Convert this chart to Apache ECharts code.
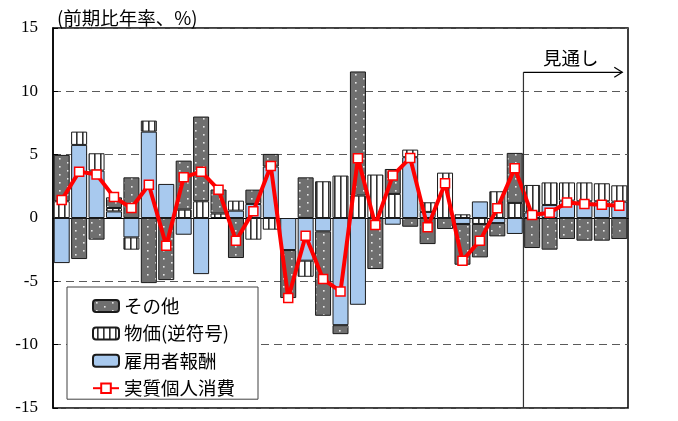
<!DOCTYPE html>
<html><head><meta charset="utf-8">
<script src="https://cdn.jsdelivr.net/npm/echarts@6/dist/echarts.min.js"></script>
<style>html,body{margin:0;padding:0;background:#fff}#c{width:678px;height:421px}</style>
</head><body><div id="c"></div>
<script>
const categories = ['1','2','3','4','5','6','7','8','9','10','11','12','13','14','15','16','17','18','19','20','21','22','23','24','25','26','27','28','29','30','31','32','33'];
const compensation = [-3.56,5.77,3.74,0.52,-1.53,6.82,2.69,-1.32,-4.43,0,0.58,1.11,4.06,-2.53,-3.37,-1.05,-8.46,-6.85,0,-0.53,4.80,0.48,0,-0.47,1.31,-0.40,-1.26,0.44,1.03,1.37,1.32,1.32,1.29];
const prices = [1.32,1.05,1.37,0.27,-0.97,0.87,0,0.66,1.32,0.35,0.79,-1.71,-0.92,0,-1.27,2.90,3.35,1.77,3.43,1.90,0.60,0.76,3.58,0.29,-0.47,2.11,1.19,2.17,1.78,1.44,1.49,1.42,1.29];
const others = [3.66,-3.24,-1.71,0.84,3.21,-5.14,-4.90,3.87,6.69,1.90,-3.16,1.13,1.00,-3.79,3.21,-6.67,-0.71,9.80,-4.03,1.97,-0.69,-2.06,-0.87,-3.22,-2.64,-1.05,3.95,-2.37,-2.50,-1.66,-1.79,-1.79,-1.66];
const consumption = [1.42,3.66,3.43,1.65,0.79,2.63,-2.19,3.21,3.66,2.24,-1.79,0.53,4.11,-6.32,-1.40,-4.82,-5.80,4.72,-0.55,3.35,4.74,-0.74,2.74,-3.37,-1.79,0.76,3.93,0.24,0.42,1.23,1.11,1.05,0.97];
const yTicks = [-15,-10,-5,0,5,10,15];
const forecastStart = 27; // first forecast category index

function dotPattern(){
  const c=document.createElement('canvas');c.width=16;c.height=8;
  const g=c.getContext('2d');
  g.fillStyle='#6f6f6f';g.fillRect(0,0,16,8);
  g.fillStyle='#e6e6e6';
  g.fillRect(3,2,1.6,1.6);g.fillRect(11,6,1.6,1.6);
  return {image:c,repeat:'repeat'};
}
function stripePattern(){
  const c=document.createElement('canvas');c.width=6;c.height=6;
  const g=c.getContext('2d');
  g.fillStyle='#ffffff';g.fillRect(0,0,6,6);
  g.fillStyle='#333333';g.fillRect(4,0,1.6,6);
  return {image:c,repeat:'repeat'};
}
const nz = a => a.map(v => v === 0 ? null : v);
const jp = '"Noto Sans CJK JP","Noto Sans",sans-serif';

const chart = echarts.init(document.getElementById('c'), null, {renderer:'canvas'});
const barCommon = {type:'bar', stack:'s', barWidth:16, itemStyle:{borderColor:'#1a1a1a', borderWidth:1}};
chart.setOption({
  animation:false,
  title:{text:'(前期比年率、%)', left:52, top:4, textStyle:{fontFamily:jp, fontSize:18.5, fontWeight:'normal', color:'#000'}},
  grid:{left:53, right:50, top:28, bottom:13, show:true, borderColor:'#000', borderWidth:1.5, backgroundColor:'transparent'},
  legend:{
    orient:'vertical', left:67, top:287,
    data:['その他','物価(逆符号)','雇用者報酬','実質個人消費'],
    padding:[9,23,1,25], itemWidth:26, itemHeight:12, itemGap:7.4,
    backgroundColor:'#fff', borderColor:'#404040', borderWidth:1, borderRadius:0,
    textStyle:{fontFamily:jp, fontSize:18.5, color:'#000', lineHeight:20}
  },
  xAxis:{type:'category', data:categories, boundaryGap:true,
    axisLine:{onZero:true, lineStyle:{color:'#000', width:1.2}}, axisTick:{show:false}, axisLabel:{show:false}},
  yAxis:{type:'value', min:yTicks[0], max:yTicks[yTicks.length-1], interval:5,
    axisLine:{show:true, lineStyle:{color:'#000', width:1.5}},
    axisTick:{show:true, inside:true, length:5, lineStyle:{color:'#000'}},
    axisLabel:{fontFamily:'"Liberation Serif","Times New Roman",serif', fontSize:17, color:'#000', margin:15},
    splitLine:{show:true, lineStyle:{color:'#5a5a5a', type:[8,5], width:1.2}}},
  series:[
    Object.assign({}, barCommon, {name:'雇用者報酬', data:nz(compensation), itemStyle:{color:'#a8c9ee', borderColor:'#1a1a1a', borderWidth:1}}),
    Object.assign({}, barCommon, {name:'物価(逆符号)', data:nz(prices), itemStyle:{color:stripePattern(), borderColor:'#1a1a1a', borderWidth:1}}),
    Object.assign({}, barCommon, {name:'その他', data:nz(others), itemStyle:{color:dotPattern(), borderColor:'#1a1a1a', borderWidth:1}}),
    {name:'実質個人消費', type:'line', data:consumption, z:10, symbol:'rect', symbolSize:9,
      lineStyle:{color:'#ff0000', width:4}, itemStyle:{color:'#ffffff', borderColor:'#ff0000', borderWidth:1.5}}
  ]
});

// forecast divider, arrow and label positioned via axis conversion
const xa = chart.convertToPixel({xAxisIndex:0}, categories[forecastStart-1]);
const xb = chart.convertToPixel({xAxisIndex:0}, categories[forecastStart]);
const xv = (xa + xb) / 2;
const yTop = chart.convertToPixel({yAxisIndex:0}, 11.5);
const yBot = chart.convertToPixel({yAxisIndex:0}, -15);
const xEnd = chart.convertToPixel({xAxisIndex:0}, categories[categories.length-1]) + 9;
chart.setOption({graphic:[
  {type:'line', shape:{x1:xv, y1:yTop, x2:xv, y2:yBot}, style:{stroke:'#333', lineWidth:1.2}, z:20},
  {type:'line', shape:{x1:xv, y1:yTop, x2:xEnd-6, y2:yTop}, style:{stroke:'#000', lineWidth:1.2}, z:20},
  {type:'polyline', shape:{points:[[xEnd-14, yTop-5],[xEnd-6, yTop],[xEnd-14, yTop+5]]}, style:{stroke:'#000', lineWidth:1.2, fill:null}, z:20},
  {type:'text', x:(xv+xEnd-6)/2 - 2, y:yTop-14, style:{text:'見通し', font:'18.5px "Noto Sans CJK JP", sans-serif', fill:'#000', align:'center', verticalAlign:'middle'}, z:20}
]});
</script>
</body></html>
